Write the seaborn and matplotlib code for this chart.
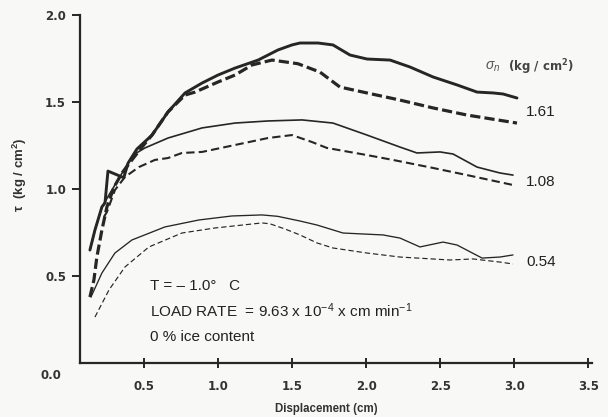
import matplotlib
matplotlib.use("Agg")
import matplotlib.pyplot as plt
import seaborn as sns
import pandas as pd

# ---- data ----
x_161_solid = [0.131, 0.165, 0.212, 0.233, 0.253, 0.360, 0.389, 0.449, 0.551, 0.659, 0.774, 0.889,
               0.997, 1.112, 1.268, 1.402, 1.497, 1.551, 1.673, 1.774, 1.889, 2.004, 2.160, 2.295,
               2.450, 2.613, 2.748, 2.856, 2.924, 3.018]
y_161_solid = [0.649, 0.764, 0.897, 0.920, 1.103, 1.065, 1.149, 1.230, 1.310, 1.443, 1.552, 1.609,
               1.655, 1.695, 1.741, 1.799, 1.828, 1.839, 1.839, 1.828, 1.770, 1.747, 1.741, 1.701,
               1.644, 1.598, 1.557, 1.552, 1.546, 1.523]

x_161_dash = [0.131, 0.158, 0.178, 0.212, 0.246, 0.294, 0.348, 0.415, 0.483, 0.551, 0.659, 0.774,
              0.842, 0.997, 1.112, 1.227, 1.362, 1.537, 1.686, 1.821, 2.004, 2.227, 2.450, 2.680,
              3.018]
y_161_dash = [0.379, 0.477, 0.609, 0.764, 0.897, 1.011, 1.092, 1.167, 1.241, 1.310, 1.443, 1.540,
              1.557, 1.615, 1.655, 1.713, 1.741, 1.720, 1.672, 1.586, 1.552, 1.511, 1.466, 1.425,
              1.379]

x_108_solid = [0.131, 0.165, 0.212, 0.300, 0.422, 0.503, 0.659, 0.889, 1.112, 1.335, 1.565, 1.774,
               2.004, 2.227, 2.342, 2.498, 2.586, 2.748, 2.903, 2.991]
y_108_solid = [0.649, 0.764, 0.897, 1.023, 1.195, 1.236, 1.293, 1.351, 1.379, 1.391, 1.397, 1.379,
               1.310, 1.241, 1.207, 1.213, 1.201, 1.126, 1.092, 1.080]

x_108_dash = [0.226, 0.246, 0.300, 0.368, 0.462, 0.570, 0.659, 0.753, 0.889, 1.112, 1.335, 1.497,
              1.632, 1.733, 2.004, 2.180, 2.450, 2.680, 2.991]
y_108_dash = [0.840, 0.868, 0.994, 1.069, 1.126, 1.167, 1.178, 1.207, 1.213, 1.253, 1.293, 1.310,
              1.270, 1.236, 1.195, 1.167, 1.121, 1.080, 1.023]

x_054_solid = [0.138, 0.212, 0.300, 0.415, 0.638, 0.868, 1.091, 1.294, 1.400, 1.551, 1.666, 1.842,
               2.112, 2.227, 2.362, 2.518, 2.613, 2.782, 2.903, 2.991]
y_054_solid = [0.379, 0.517, 0.632, 0.707, 0.782, 0.822, 0.845, 0.851, 0.843, 0.816, 0.793, 0.747,
               0.736, 0.718, 0.667, 0.695, 0.678, 0.603, 0.609, 0.621]

x_054_dash = [0.165, 0.260, 0.368, 0.530, 0.753, 0.977, 1.294, 1.348, 1.450, 1.551, 1.666, 1.774,
              2.004, 2.227, 2.565, 2.721, 2.903, 2.991]
y_054_dash = [0.264, 0.420, 0.552, 0.667, 0.747, 0.776, 0.805, 0.800, 0.770, 0.736, 0.690, 0.661,
              0.632, 0.609, 0.592, 0.598, 0.580, 0.569]

sigma_labels = ["1.61", "1.08", "0.54"]
sigma_label_y = [1.44, 1.04, 0.58]
x_ticks = [0.5, 1.0, 1.5, 2.0, 2.5, 3.0, 3.5]
y_ticks = [0.5, 1.0, 1.5, 2.0]

# ---- style ----
sns.set_theme(style="white")
plt.rcParams["font.family"] = ["Liberation Sans", "DejaVu Sans"]
plt.rcParams["mathtext.default"] = "regular"
ink = "#262626"
txt = "#333333"
bg = "#f8f8f6"

fig = plt.figure(figsize=(6.08, 4.17), dpi=100, facecolor=bg)
ax = fig.add_axes([80 / 608, 54 / 417, 512 / 608, 348 / 417])
ax.set_facecolor(bg)

curves = [
    (x_161_solid, y_161_solid, "-", 2.1),
    (x_161_dash, y_161_dash, (0, (3.2, 1.3)), 2.3),
    (x_108_solid, y_108_solid, "-", 1.2),
    (x_108_dash, y_108_dash, (0, (4.0, 2.0)), 1.5),
    (x_054_solid, y_054_solid, "-", 0.95),
    (x_054_dash, y_054_dash, (0, (4.5, 2.5)), 0.85),
]
for xs, ys, ls, lw in curves:
    df = pd.DataFrame({"x": xs, "y": ys})
    sns.lineplot(data=df, x="x", y="y", sort=False, estimator=None, ax=ax,
                 color=ink, linewidth=lw, linestyle=ls,
                 solid_joinstyle="round", dash_joinstyle="round")

ax.set_xlim(0.064, 3.525)
ax.set_ylim(0, 2.0)
ax.set_xticks(x_ticks)
ax.set_xticklabels([f"{v:.1f}" for v in x_ticks])
ax.set_yticks(y_ticks)
ax.set_yticklabels([f"{v:.1f}" for v in y_ticks])

for s in ["top", "right"]:
    ax.spines[s].set_visible(False)
for s in ["left", "bottom"]:
    ax.spines[s].set_color(ink)
    ax.spines[s].set_linewidth(1.6)

ax.tick_params(axis="y", left=True, direction="out", length=6, width=1.4, color=ink, pad=4,
               labelsize=8.5, labelcolor=txt)
ax.tick_params(axis="x", bottom=True, direction="inout", length=7, width=1.4, color=ink, pad=9,
               labelsize=8.5, labelcolor=txt)
for lab in ax.get_xticklabels() + ax.get_yticklabels():
    lab.set_fontweight("bold")
    lab.set_family("DejaVu Sans")

ax.text(-0.037, -0.035, "0.0", transform=ax.transAxes, ha="right", va="center",
        fontsize=8.5, fontweight="bold", color=txt, family="DejaVu Sans")

ax.set_xlabel("Displacement (cm)", fontsize=8.3, fontweight="bold", color=txt)
ax.xaxis.set_label_coords(0.482, -0.115)
ax.set_ylabel("τ  (kg / cm$^2$)", fontsize=9.5, fontweight="bold", color=txt)
ax.yaxis.set_label_coords(-0.100, 0.54)

# sigma labels
for lab, yy in zip(sigma_labels, sigma_label_y):
    ax.text(3.08, yy, lab, fontsize=11, color="#222222", ha="left", va="center")
ax.text(2.80, 1.70, r"$\sigma_n$", fontsize=10, color="#555555", ha="left", va="center",
        fontstyle="italic")
ax.text(2.96, 1.70, "(kg / cm$^2$)", fontsize=8.5, fontweight="bold", color="#444444",
        ha="left", va="center", family="DejaVu Sans")

# condition annotations
ax.text(0.54, 0.44, "T = – 1.0°   C", fontsize=11, color="#222222", ha="left", va="center")
ax.text(0.54, 0.30, "LOAD RATE  = 9.63 x 10$^{-4}$ x cm min$^{-1}$", fontsize=11,
        color="#222222", ha="left", va="center")
ax.text(0.54, 0.15, "0 % ice content", fontsize=11, color="#222222", ha="left", va="center")

fig.savefig("out.png", dpi=100, facecolor=bg)
